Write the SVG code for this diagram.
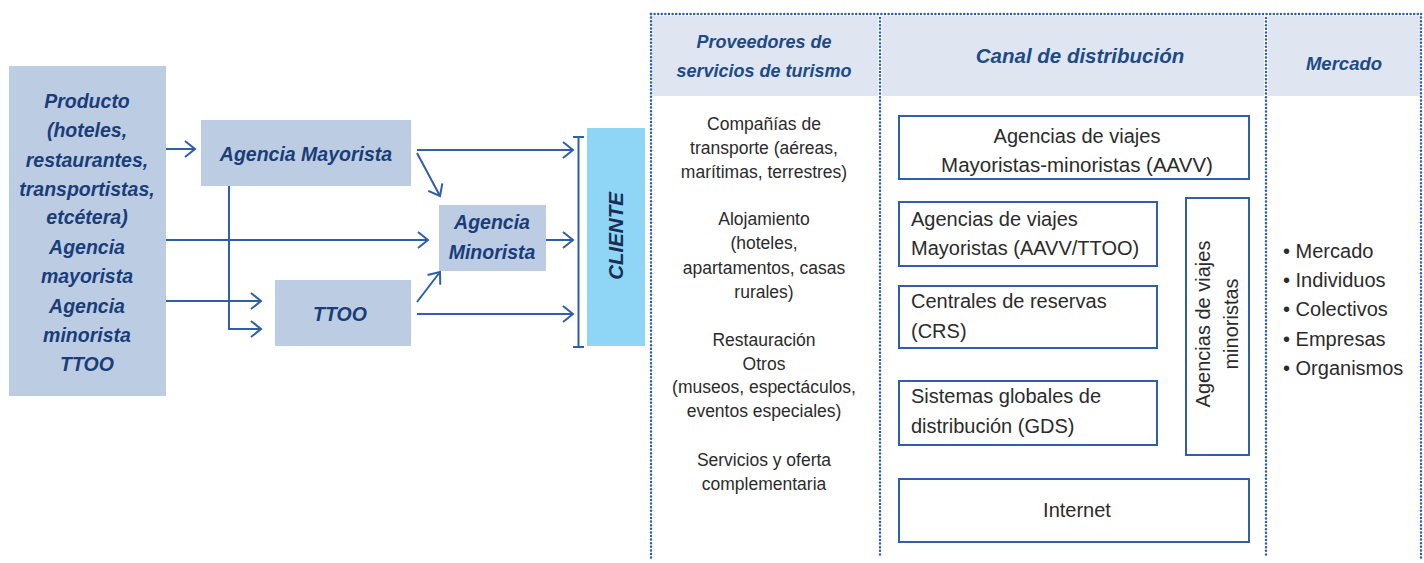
<svg xmlns="http://www.w3.org/2000/svg" width="1424" height="563" viewBox="0 0 1424 563">
<style>
.box{fill:#bccde3}
.bt{font-family:"Liberation Sans",Arial,sans-serif;font-weight:bold;font-style:italic;font-size:19.5px;fill:#1a3d7a;text-anchor:middle}
.hd{font-family:"Liberation Sans",Arial,sans-serif;font-weight:bold;font-style:italic;fill:#1e4a88;text-anchor:middle}
.lt{font-family:"Liberation Sans",Arial,sans-serif;font-size:17.5px;fill:#2b2b2b;text-anchor:middle}
.rt{font-family:"Liberation Sans",Arial,sans-serif;font-size:20px;fill:#2b2b2b}
.ob{fill:#ffffff;stroke:#2e5fa8;stroke-width:2}
.dot{stroke:#2c5fab;stroke-width:2.5;stroke-dasharray:0 3.6;stroke-linecap:round;fill:none}
.cn{stroke:#2e5fa8;stroke-width:2;fill:none}
</style>
<defs>
<marker id="ah" markerUnits="userSpaceOnUse" markerWidth="14" markerHeight="20" refX="11" refY="9" orient="auto">
<path d="M1,1 L11,9 L1,17" fill="none" stroke="#2e5fa8" stroke-width="2"/>
</marker>
</defs>

<g id="producto">
<rect class="box" x="9" y="66" width="157" height="330"/>
<text class="bt" x="87" y="108">Producto</text>
<text class="bt" x="87" y="137">(hoteles,</text>
<text class="bt" x="87" y="167">restaurantes,</text>
<text class="bt" x="87" y="196">transportistas,</text>
<text class="bt" x="87" y="224">etcétera)</text>
<text class="bt" x="87" y="254">Agencia</text>
<text class="bt" x="87" y="283">mayorista</text>
<text class="bt" x="87" y="313">Agencia</text>
<text class="bt" x="87" y="342">minorista</text>
<text class="bt" x="87" y="371">TTOO</text>
</g>

<g id="agencia-mayorista">
<rect class="box" x="201" y="120" width="210" height="66"/>
<text class="bt" x="306" y="161">Agencia Mayorista</text>
</g>

<g id="ttoo">
<rect class="box" x="275" y="280" width="136" height="66"/>
<text class="bt" x="340" y="321">TTOO</text>
</g>

<g id="agencia-minorista">
<rect class="box" x="439" y="205" width="107" height="66"/>
<text class="bt" x="492" y="229">Agencia</text>
<text class="bt" x="492" y="259">Minorista</text>
</g>

<g id="cliente">
<rect x="587" y="128" width="58" height="218" fill="#8fd5f5"/>
<text class="bt" x="0" y="0" transform="translate(623,236) rotate(-90)" style="fill:#1a2d52;font-size:20.5px">CLIENTE</text>
</g>

<g id="connectors">
<path class="cn" d="M166,149 H195" marker-end="url(#ah)"/>
<path class="cn" d="M166,240 H428" marker-end="url(#ah)"/>
<path class="cn" d="M166,301 H261" marker-end="url(#ah)"/>
<path class="cn" d="M229,186 V329 H261" marker-end="url(#ah)"/>
<path class="cn" d="M417,150 H573" marker-end="url(#ah)"/>
<path class="cn" d="M417,153 L440,196" marker-end="url(#ah)"/>
<path class="cn" d="M417,302 L440,272" marker-end="url(#ah)"/>
<path class="cn" d="M417,314 H573" marker-end="url(#ah)"/>
<path class="cn" d="M546,240 H573" marker-end="url(#ah)"/>
<path class="cn" d="M573,137 H584 M578.5,137 V347 M573,347 H584"/>
</g>

<g id="panel">
<rect x="652" y="16" width="226" height="80" fill="#dfe6f1"/>
<rect x="882" y="16" width="382" height="80" fill="#dfe6f1"/>
<rect x="1268" y="16" width="152" height="80" fill="#dfe6f1"/>
<path class="dot" d="M651,14 H1421"/>
<path class="dot" d="M651,14 V560"/>
<path class="dot" d="M880,18 V556"/>
<path class="dot" d="M1266,18 V556"/>
<path class="dot" d="M1421,14 V560"/>
</g>

<g id="proveedores">
<text class="hd" x="764" y="48" style="font-size:18px">Proveedores de</text>
<text class="hd" x="764" y="77" style="font-size:18px">servicios de turismo</text>
<text class="lt" x="764" y="130">Compañías de</text>
<text class="lt" x="764" y="154">transporte (aéreas,</text>
<text class="lt" x="764" y="178">marítimas, terrestres)</text>
<text class="lt" x="764" y="225">Alojamiento</text>
<text class="lt" x="764" y="249">(hoteles,</text>
<text class="lt" x="764" y="274">apartamentos, casas</text>
<text class="lt" x="764" y="298">rurales)</text>
<text class="lt" x="764" y="346">Restauración</text>
<text class="lt" x="764" y="370">Otros</text>
<text class="lt" x="764" y="393">(museos, espectáculos,</text>
<text class="lt" x="764" y="417">eventos especiales)</text>
<text class="lt" x="764" y="466">Servicios y oferta</text>
<text class="lt" x="764" y="490">complementaria</text>
</g>

<g id="canal-header">
<text class="hd" x="1080" y="63" style="font-size:20.5px">Canal de distribución</text>
</g>

<g id="aavv-mm">
<rect class="ob" x="899" y="116" width="350" height="63"/>
<text class="rt" x="1077" y="143" text-anchor="middle">Agencias de viajes</text>
<text class="rt" x="1077" y="172" text-anchor="middle" style="font-size:20.5px">Mayoristas-minoristas (AAVV)</text>
</g>

<g id="aavv-ttoo">
<rect class="ob" x="899" y="202" width="258" height="64"/>
<text class="rt" x="911" y="226">Agencias de viajes</text>
<text class="rt" x="911" y="255">Mayoristas (AAVV/TTOO)</text>
</g>

<g id="crs">
<rect class="ob" x="899" y="286" width="258" height="62"/>
<text class="rt" x="911" y="308">Centrales de reservas</text>
<text class="rt" x="911" y="338">(CRS)</text>
</g>

<g id="gds">
<rect class="ob" x="899" y="381" width="258" height="64"/>
<text class="rt" x="911" y="403">Sistemas globales de</text>
<text class="rt" x="911" y="433">distribución (GDS)</text>
</g>

<g id="minoristas">
<rect class="ob" x="1186" y="198" width="63" height="257"/>
<text class="rt" text-anchor="middle" transform="translate(1210,324) rotate(-90)">Agencias de viajes</text>
<text class="rt" text-anchor="middle" transform="translate(1238,324) rotate(-90)">minoristas</text>
</g>

<g id="internet">
<rect class="ob" x="899" y="479" width="350" height="63"/>
<text class="rt" x="1077" y="517" text-anchor="middle">Internet</text>
</g>

<g id="mercado">
<text class="hd" x="1344" y="70" style="font-size:18.5px">Mercado</text>
<text class="rt" x="1283" y="258">• Mercado</text>
<text class="rt" x="1283" y="287">• Individuos</text>
<text class="rt" x="1283" y="316">• Colectivos</text>
<text class="rt" x="1283" y="346">• Empresas</text>
<text class="rt" x="1283" y="375">• Organismos</text>
</g>
</svg>
